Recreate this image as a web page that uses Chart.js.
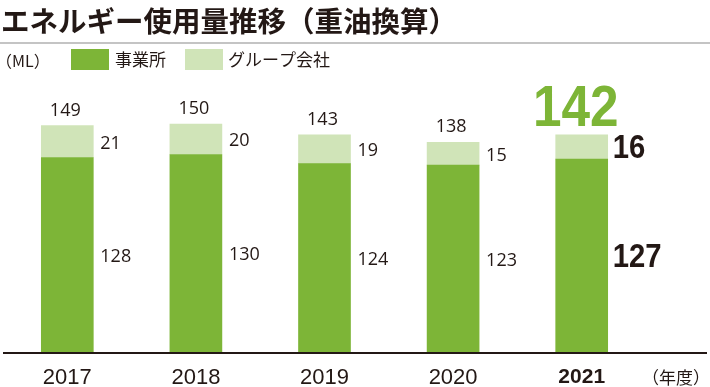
<!DOCTYPE html>
<html>
<head>
	<meta charset="utf-8"/>
	<script src="https://cdn.jsdelivr.net/npm/chart.js@4/dist/chart.umd.min.js"></script>
	<style>
		html, body { margin: 0; padding: 0; background: #fff; }
		#wrap { width: 710px; height: 387px; }
	</style>
</head>
<body>
<div id="wrap"><canvas id="chart" width="710" height="387"></canvas></div>
<script>
	// data (ML, heavy oil equivalent)
	var years = ["2017", "2018", "2019", "2020", "2021"];
	var jigyosho = [128, 130, 124, 123, 127];
	var group = [21, 20, 19, 15, 16];
	var totals = [149, 150, 143, 138, 142];

	var titleText = "エネルギー使用量推移（重油換算）";
	var unitText = "（ML）";
	var seriesNames = ["事業所", "グループ会社"];
	var yearUnit = "（年度）";

	var DARK = "#7db537";
	var LIGHT = "#d0e4b8";
	var INK = "#231815";
	var JP = "'Noto Sans CJK JP', 'Noto Sans', sans-serif";
	var NUM = "'Open Sans', 'Noto Sans', sans-serif";
	var last = years.length - 1;

	function txt(ctx, s, x, y, font, color, align, base, sx) {
		ctx.save();
		ctx.font = font;
		ctx.fillStyle = color;
		ctx.textAlign = align;
		ctx.textBaseline = base;
		ctx.translate(x, y);
		ctx.scale(sx || 1, 1);
		ctx.fillText(s, 0, 0);
		ctx.restore();
	}

	var decor = {
		id: "decor",
		beforeDraw: function(chart) {
			var ctx = chart.ctx;
			// title + rule
			txt(ctx, titleText, 1, 21, "bold 28.5px " + JP, INK, "left", "middle");
			ctx.save();
			ctx.strokeStyle = "#b0b0b0";
			ctx.lineWidth = 1.5;
			ctx.beginPath();
			ctx.moveTo(0, 43);
			ctx.lineTo(710, 43);
			ctx.stroke();
			ctx.restore();
			// legend
			txt(ctx, unitText, -4, 61, "16px " + JP, INK, "left", "middle");
			ctx.fillStyle = DARK;
			ctx.fillRect(71, 49, 38, 21);
			txt(ctx, seriesNames[0], 115, 60, "17px " + JP, INK, "left", "middle");
			ctx.fillStyle = LIGHT;
			ctx.fillRect(185, 49, 38, 21);
			txt(ctx, seriesNames[1], 228, 60, "17px " + JP, INK, "left", "middle");
		},
		afterDatasetsDraw: function(chart) {
			var ctx = chart.ctx;
			var area = chart.chartArea;
			var m0 = chart.getDatasetMeta(0).data;
			var m1 = chart.getDatasetMeta(1).data;
			for (var i = 0; i < years.length; i++) {
				var b0 = m0[i], b1 = m1[i];
				var lx = b0.x + b0.width / 2 + 7;
				var y0 = (b0.y + b0.base) / 2 + 2;
				var y1 = (b1.y + b1.base) / 2 + 2;
				if (i === last) {
					txt(ctx, String(jigyosho[i]), lx - 2, y0, "bold 34px 'Liberation Sans', Arial, sans-serif", INK, "left", "middle", 0.86);
					txt(ctx, String(group[i]), lx - 2, y1, "bold 34px 'Liberation Sans', Arial, sans-serif", INK, "left", "middle", 0.86);
					txt(ctx, String(totals[i]), b1.x - 6, b1.y - 9, "bold 57px 'Liberation Sans', Arial, sans-serif", DARK, "center", "alphabetic", 0.9);
				} else {
					txt(ctx, String(jigyosho[i]), lx, y0, "18px " + NUM, INK, "left", "middle");
					txt(ctx, String(group[i]), lx, y1, "18px " + NUM, INK, "left", "middle");
					txt(ctx, String(totals[i]), b1.x - 2, b1.y - 10, "18px " + NUM, INK, "center", "alphabetic");
				}
			}
			// baseline
			ctx.save();
			ctx.strokeStyle = INK;
			ctx.lineWidth = 2;
			ctx.beginPath();
			ctx.moveTo(3, area.bottom + 1);
			ctx.lineTo(707, area.bottom + 1);
			ctx.stroke();
			ctx.restore();
			txt(ctx, yearUnit, 710, 378, "17px " + JP, INK, "right", "middle");
		}
	};

	new Chart(document.getElementById("chart").getContext("2d"), {
		type: "bar",
		data: {
			labels: years,
			datasets: [
				{ label: seriesNames[0], data: jigyosho, backgroundColor: DARK, barThickness: 52 },
				{ label: seriesNames[1], data: group, backgroundColor: LIGHT, barThickness: 52 }
			]
		},
		options: {
			responsive: false,
			animation: false,
			events: [],
			layout: { padding: { top: 77, left: 3, right: 64, bottom: 0 } },
			plugins: { legend: { display: false }, title: { display: false }, tooltip: { enabled: false } },
			scales: {
				x: {
					stacked: true,
					grid: { display: false },
					border: { display: false },
					afterFit: function(scale) { scale.height = 35; },
					ticks: {
						color: INK,
						padding: 5,
						font: function(c) {
							return c.index === last
								? { family: "'Liberation Sans', Arial, sans-serif", size: 21, weight: "bold" }
								: { family: "'Liberation Sans Narrow', 'Liberation Sans', sans-serif", size: 22 };
						}
					}
				},
				y: { stacked: true, display: false, min: 0, max: 181 }
			}
		},
		plugins: [decor]
	});
</script>
</body>
</html>
